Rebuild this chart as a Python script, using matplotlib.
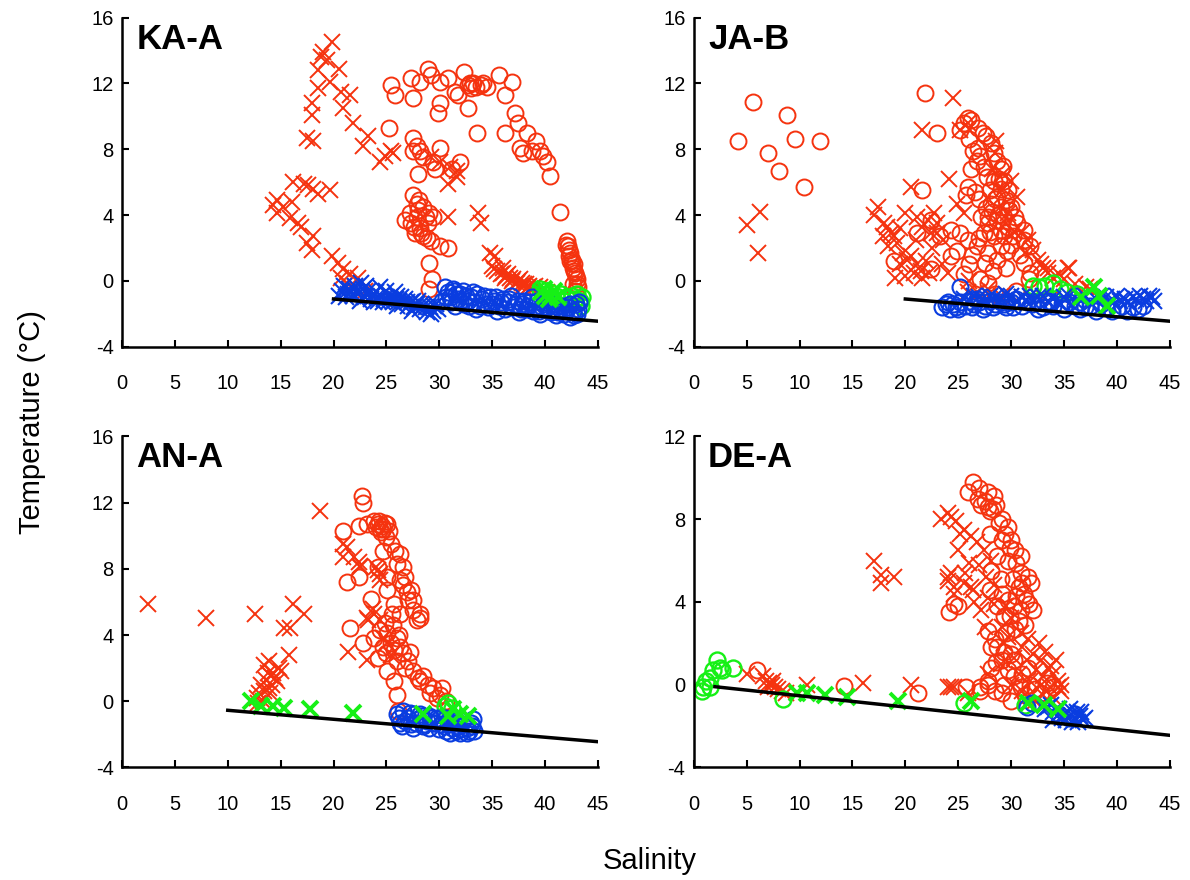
import matplotlib
matplotlib.use("Agg")
import matplotlib.pyplot as plt

plt.rcParams['font.family'] = ['Liberation Sans', 'DejaVu Sans']
plt.rcParams['axes.unicode_minus'] = False

RED = '#f5330f'
BLUE = '#0a3de0'
GREEN = '#16f016'

# ---------------- KA-A ----------------
ka_red_x = [(19.9, 14.5), (19.0, 13.9), (18.8, 13.6), (19.4, 13.4), (20.5, 12.9), (18.5, 12.8),
            (19.7, 12.1), (18.5, 11.7), (20.7, 11.5), (21.6, 11.3), (18.0, 10.8), (20.9, 10.5),
            (18.0, 10.1), (21.8, 9.6), (17.5, 8.7), (18.1, 8.5), (23.3, 8.8), (22.8, 8.2),
            (25.6, 7.8), (24.9, 7.6), (24.4, 7.2), (25.4, 7.9), (16.2, 6.0), (17.2, 5.9),
            (17.6, 5.8), (18.1, 5.6), (18.5, 5.3), (19.7, 5.5), (14.7, 4.9), (14.3, 4.6),
            (15.2, 4.5), (14.7, 4.1), (16.1, 4.8), (15.9, 3.8), (16.6, 3.5), (16.9, 3.3),
            (18.1, 2.7), (17.5, 2.3), (18.0, 1.9), (19.9, 1.5), (20.4, 1.1), (20.9, 0.7),
            (21.6, 0.4), (22.3, 0.2), (20.7, 0.2), (21.3, -0.1), (22.0, -0.4), (23.0, -0.6),
            (30.1, 7.2), (31.0, 6.9), (31.7, 6.7), (30.8, 5.9), (31.7, 6.3), (29.2, 7.5),
            (30.8, 3.9), (33.7, 4.1), (33.9, 3.5), (34.8, 1.7), (35.0, 0.9), (35.5, 0.6),
            (36.0, 0.5), (36.3, 0.3), (36.7, 0.2), (37.0, 0.1), (37.4, 0.0), (37.8, -0.1),
            (38.2, -0.2), (38.5, -0.3), (38.9, -0.4), (39.3, -0.5), (39.7, -0.6), (40.2, -0.7),
            (36.5, 0.4), (37.6, 0.1), (38.0, -0.2), (39.0, -0.3), (35.2, 0.7), (35.8, 0.4),
            (36.2, 0.2), (36.9, 0.0), (37.3, -0.1), (37.9, -0.3), (38.4, -0.4), (38.8, -0.5),
            (39.5, -0.4), (40.0, -0.8), (35.3, 1.5), (36.0, 0.8)]
ka_red_o = [(25.4, 11.9), (25.8, 11.3), (27.3, 12.3), (27.5, 11.1), (28.2, 12.1), (28.9, 12.9),
            (29.2, 12.5), (30.1, 12.1), (30.1, 10.8), (29.9, 10.2), (31.5, 11.5), (32.3, 12.7),
            (32.7, 11.9), (33.2, 12.0), (33.9, 11.9), (34.5, 11.8), (35.6, 12.5), (36.9, 12.1),
            (36.2, 11.3), (32.7, 10.5), (33.6, 9.0), (31.8, 11.3), (30.8, 12.3), (37.2, 10.2),
            (37.4, 9.6), (38.3, 9.0), (36.2, 9.0), (39.1, 8.5), (37.6, 8.1), (37.9, 7.8),
            (38.8, 7.9), (39.5, 7.9), (39.8, 7.6), (40.2, 7.2), (40.5, 6.4), (41.4, 4.2),
            (42.1, 2.4), (42.2, 2.1), (42.4, 1.7), (42.5, 1.3), (42.6, 0.8), (42.8, 0.5),
            (43.0, 0.1), (43.1, -0.4), (42.3, 1.9), (42.7, 1.0), (25.2, 9.3), (27.5, 8.7),
            (27.9, 8.2), (28.2, 7.9), (27.5, 7.9), (28.5, 7.5), (28.0, 6.5), (30.1, 8.1),
            (29.4, 7.2), (32.0, 7.2), (31.2, 6.8), (29.6, 6.8), (27.5, 5.2), (27.9, 4.7),
            (28.5, 4.5), (26.8, 3.7), (27.3, 3.5), (27.9, 3.9), (28.9, 3.5), (29.4, 3.9),
            (27.7, 2.9), (28.5, 2.7), (29.2, 2.4), (30.1, 2.1), (30.8, 2.0), (28.2, 3.2),
            (29.0, 4.1), (29.0, 1.1), (29.3, 0.1), (29.0, -0.5), (42.0, 2.2), (42.3, 1.5),
            (42.5, 1.1), (42.7, 0.6), (42.9, 0.3), (43.0, -0.2), (42.8, -0.6), (42.4, 1.2),
            (42.6, -0.2), (32.9, 12.0), (33.5, 11.8), (34.1, 12.0), (33.0, 11.7), (28.0, 4.3),
            (28.7, 3.9), (27.6, 3.3), (28.3, 2.9), (28.8, 2.6), (28.1, 4.9), (27.2, 4.1)]
ka_blue_x = [(21.5, -0.5), (22.0, -0.3), (22.3, -0.8), (22.8, -0.5), (23.0, -1.0), (23.3, -0.6),
             (23.6, -0.9), (24.0, -0.7), (24.2, -1.2), (24.5, -0.9), (24.8, -1.1), (25.0, -0.6),
             (25.3, -1.0), (25.6, -1.3), (26.0, -0.9), (26.2, -1.2), (26.5, -1.4), (26.8, -1.1),
             (27.0, -1.5), (27.3, -1.3), (27.6, -1.6), (27.9, -1.4), (28.2, -1.7), (28.5, -1.5),
             (28.8, -1.9), (29.1, -1.6), (29.4, -1.8), (29.7, -1.4), (22.5, -1.2), (21.8, -0.9),
             (23.8, -1.3), (25.8, -0.7), (24.4, -0.4), (27.4, -1.8), (28.0, -1.2), (29.2, -2.0),
             (26.0, -1.5), (20.8, -0.6), (21.2, -1.0), (22.6, -0.1), (21.0, -0.3), (21.4, -0.8),
             (22.1, -0.6), (22.9, -0.9), (23.5, -1.1), (24.1, -1.0), (24.7, -1.3), (25.2, -1.2),
             (25.9, -1.1), (26.4, -1.0), (26.9, -1.3), (27.5, -1.2), (28.3, -1.4), (28.7, -1.6),
             (29.5, -1.5), (29.9, -1.7), (23.1, -0.3), (20.5, -0.9)]
ka_blue_o = [(30.5, -0.4), (30.8, -0.7), (31.0, -1.0), (31.3, -0.5), (31.6, -0.8), (32.0, -1.2),
             (32.2, -0.6), (32.5, -0.9), (33.0, -1.0), (33.3, -1.3), (33.6, -0.8), (34.0, -1.1),
             (34.4, -1.4), (34.8, -1.0), (35.2, -1.2), (35.6, -1.5), (36.0, -1.1), (36.5, -1.3),
             (37.0, -1.6), (37.4, -1.2), (37.8, -1.4), (38.2, -1.7), (38.6, -1.3), (39.0, -1.5),
             (39.4, -1.8), (39.8, -1.4), (40.2, -1.6), (40.6, -1.9), (41.0, -1.5), (41.4, -1.7),
             (41.8, -2.0), (42.2, -1.6), (42.6, -1.8), (42.9, -1.4), (43.0, -2.0), (42.4, -2.2),
             (31.5, -1.5), (33.5, -1.7), (35.5, -1.8), (37.5, -1.9), (39.5, -2.0), (41.0, -2.1),
             (30.3, -1.2), (32.8, -1.5), (36.8, -0.9), (38.8, -1.0), (40.8, -1.2), (30.6, -1.0),
             (31.1, -1.3), (31.8, -1.1), (32.3, -1.4), (32.7, -1.2), (33.2, -0.7), (33.8, -1.5),
             (34.2, -0.9), (34.6, -1.6), (35.0, -1.4), (35.4, -1.0), (35.8, -1.3), (36.2, -1.7),
             (36.6, -1.1), (37.2, -1.4), (37.7, -1.7), (38.0, -1.2), (38.4, -1.5), (38.9, -1.8),
             (39.2, -1.2), (39.7, -1.6), (40.0, -1.3), (40.4, -1.8), (40.9, -1.4), (41.2, -1.9),
             (41.6, -1.5), (42.0, -1.8), (42.4, -1.4), (42.7, -2.1), (43.1, -1.7), (43.2, -1.3),
             (31.4, -0.6), (32.0, -0.8)]
ka_green_o = [(40.0, -0.6), (40.5, -0.7), (41.0, -0.9), (41.5, -0.8), (42.0, -1.0), (42.5, -0.9),
              (43.0, -0.8), (43.3, -1.2), (43.4, -1.5), (39.5, -0.5), (41.8, -1.2), (42.8, -1.1),
              (43.5, -1.0)]
ka_green_x = [(39.6, -0.7), (40.0, -0.9), (40.4, -1.1), (40.8, -0.6), (41.2, -1.0), (39.9, -0.5),
              (40.6, -0.9)]

# ---------------- JA-B ----------------
ja_red_x = [(5.0, 3.4), (6.3, 4.2), (6.1, 1.7), (24.5, 11.1), (21.6, 9.2), (24.1, 6.2), (20.5, 5.7),
            (17.4, 4.5), (17.0, 4.0), (20.0, 4.1), (18.3, 3.3), (17.9, 2.7), (18.9, 2.7), (18.4, 2.1),
            (21.1, 3.9), (22.1, 3.7), (22.7, 4.1), (21.6, 3.3), (22.4, 2.9), (20.5, 1.5), (21.1, 1.0),
            (20.8, 0.5), (21.6, 0.2), (22.2, 0.5), (23.0, 2.9), (23.6, 2.5), (24.9, 4.7), (25.5, 4.1),
            (25.9, 9.6), (25.2, 9.2), (29.7, 4.1), (30.6, 5.1), (30.0, 6.1), (31.6, 2.5), (32.1, 1.9),
            (32.5, 1.3), (33.0, 0.8), (33.5, 0.5), (34.0, 0.2), (35.4, 0.8), (35.0, 0.1), (26.8, -0.7),
            (25.9, -0.7), (35.5, 0.8), (37.1, -0.4), (37.5, -0.5), (33.5, 0.8), (29.0, -0.9),
            (31.0, -1.0), (33.0, -1.0), (35.0, -1.1), (19.5, 1.0), (19.0, 0.2), (23.5, 1.0),
            (28.5, 7.8), (29.2, 6.5), (30.3, 3.0), (18.0, 3.5), (18.6, 2.9), (19.2, 2.3), (19.8, 1.7),
            (20.2, 1.3), (21.5, 0.6), (22.0, 1.2), (20.0, 0.3), (19.5, 3.2), (21.0, 2.5), (23.0, 3.5),
            (22.5, 2.0), (29.5, 3.5), (30.0, 2.8), (31.0, 3.0), (31.3, 1.7), (32.8, 1.0), (34.5, 0.4),
            (36.0, -0.2), (29.2, 5.6), (28.2, 6.8), (28.6, 8.5), (24.0, 0.5), (26.0, 0.0), (27.8, -0.5),
            (34.0, -0.9)]
ja_red_o = [(5.6, 10.9), (8.8, 10.1), (4.2, 8.5), (9.6, 8.6), (11.9, 8.5), (7.0, 7.8), (8.1, 6.7),
            (10.4, 5.7), (21.9, 11.4), (23.0, 9.0), (21.6, 5.5), (25.9, 9.9), (25.5, 9.6), (25.2, 9.2),
            (26.2, 9.8), (26.9, 9.3), (27.3, 9.0), (26.9, 8.1), (28.1, 8.4), (28.4, 7.8), (28.7, 7.3),
            (26.8, 7.3), (26.2, 6.8), (27.4, 6.9), (29.0, 6.8), (28.4, 6.1), (29.3, 6.1), (29.7, 5.5),
            (25.9, 5.7), (25.7, 5.2), (28.1, 4.7), (29.0, 4.5), (30.0, 4.5), (28.7, 3.7), (27.8, 3.5),
            (29.7, 3.3), (30.6, 3.5), (31.2, 3.1), (31.2, 2.5), (27.4, 2.9), (28.4, 2.7), (29.3, 2.7),
            (30.2, 2.7), (25.2, 2.9), (25.9, 2.5), (26.8, 2.1), (24.9, 1.8), (27.8, 1.7), (28.7, 1.3),
            (21.1, 2.9), (24.3, 3.1), (23.3, 2.7), (22.4, 0.7), (18.9, 1.2), (25.5, 0.4), (27.1, 0.1),
            (27.8, -0.1), (31.2, 1.1), (31.8, 0.5), (31.8, 2.1), (24.3, 1.5), (29.0, 2.1), (27.8, 3.9),
            (28.7, 5.1), (22.4, 3.7), (31.7, 0.1), (29.5, 0.8), (30.5, -0.6), (28.5, -0.8), (28.0, 5.5),
            (28.5, 5.0), (29.0, 5.6), (29.5, 4.9), (28.2, 4.2), (28.8, 4.0), (29.3, 3.9), (29.8, 4.3),
            (27.6, 4.4), (27.2, 3.9), (28.0, 3.0), (29.0, 3.1), (30.4, 3.9), (30.0, 2.2), (29.6, 1.8),
            (27.0, 2.6), (26.3, 1.6), (27.5, 1.1), (28.3, 0.6), (26.0, 1.0), (30.8, 1.6), (26.6, 5.4),
            (27.0, 5.0), (27.7, 6.3), (28.9, 6.2), (29.2, 7.0), (26.4, 7.9), (27.6, 8.8), (26.0, 8.6),
            (27.1, 7.6)]
ja_blue_o = [(23.5, -1.6), (23.8, -1.4), (24.2, -1.7), (24.5, -1.4), (24.8, -1.6), (25.2, -1.3),
             (25.2, -0.4), (25.6, -1.5), (26.0, -1.2), (26.5, -1.4), (27.0, -1.3), (27.5, -1.5),
             (28.0, -1.2), (28.5, -1.4), (29.0, -1.3), (29.5, -1.6), (30.0, -1.3), (31.0, -1.5),
             (32.0, -1.4), (33.0, -1.6), (34.0, -1.5), (35.0, -1.7), (36.0, -1.5), (37.0, -1.6),
             (38.0, -1.8), (39.0, -1.6), (40.0, -1.7), (41.0, -1.8), (42.0, -1.7), (30.5, -1.1),
             (33.5, -1.2), (36.5, -1.3), (24.0, -1.3), (25.0, -1.7), (26.3, -1.6), (27.3, -1.7),
             (28.3, -1.6), (29.3, -1.4), (30.2, -1.6), (31.5, -1.3), (32.5, -1.7), (33.8, -1.3),
             (34.8, -1.4), (35.5, -1.3), (36.5, -1.7), (37.5, -1.5), (38.5, -1.4), (39.5, -1.8),
             (40.5, -1.5), (41.5, -1.6), (42.5, -1.5), (26.8, -1.1), (29.6, -1.2)]
ja_blue_x = [(27.0, -1.0), (28.0, -0.9), (29.0, -1.1), (30.0, -0.9), (31.0, -1.0), (32.0, -1.2),
             (33.0, -0.9), (34.0, -1.1), (35.0, -1.0), (36.0, -1.2), (37.0, -0.9), (38.0, -1.1),
             (39.0, -1.0), (40.0, -0.9), (40.8, -1.1), (41.5, -1.0), (42.2, -0.9), (42.8, -1.2),
             (43.3, -1.0), (43.5, -1.2), (37.5, -1.3), (39.5, -1.3), (41.0, -1.3), (34.5, -1.3),
             (31.5, -1.3), (27.5, -1.2), (28.5, -1.0), (29.5, -0.8), (30.5, -1.2), (31.8, -0.9),
             (32.5, -1.0), (33.5, -1.2), (35.5, -0.9), (36.5, -1.0), (38.5, -0.9), (39.5, -1.1),
             (40.3, -1.2), (41.8, -1.1), (42.5, -1.1), (43.0, -0.9), (26.5, -0.9), (25.5, -1.1)]
ja_green_o = [(32.1, -0.3), (32.6, -0.4), (33.2, -0.3), (34.0, -0.1), (34.6, -0.5), (35.3, -0.7),
              (36.2, -0.8)]
ja_green_x = [(37.8, -0.4), (38.3, -0.9), (36.6, -1.0), (39.1, -1.5)]

# ---------------- AN-A ----------------
an_red_x = [(2.5, 5.9), (7.9, 5.0), (12.6, 5.3), (18.7, 11.5), (16.2, 5.9), (17.2, 5.3), (15.3, 4.4),
            (15.9, 4.4), (15.8, 2.8), (13.4, 2.2), (13.8, 1.7), (14.1, 1.5), (14.3, 1.7), (14.7, 1.2),
            (13.1, 1.0), (13.4, 0.6), (13.9, 0.8), (12.8, 0.2), (13.3, 0.0), (15.0, 1.8), (14.2, 1.0),
            (21.3, 9.3), (21.9, 8.7), (22.4, 8.4), (22.5, 8.1), (20.9, 8.7), (24.2, 7.9), (24.4, 7.3),
            (23.7, 5.6), (23.2, 5.0), (24.4, 4.9), (21.4, 3.0), (24.7, 3.8), (25.1, 3.5), (25.4, 2.8),
            (23.2, 2.5), (20.9, 9.5), (22.5, 8.2), (24.0, 8.1), (24.4, 7.7), (23.8, 5.3), (23.3, 4.9),
            (13.6, 1.3), (14.0, 0.5), (14.5, 1.4), (13.0, 0.5), (12.9, -0.1), (14.8, 2.0), (13.9, 2.4)]
an_red_o = [(22.7, 12.4), (22.8, 12.0), (23.8, 10.9), (24.2, 10.7), (24.4, 10.4), (25.1, 10.7),
            (25.2, 10.3), (23.2, 10.7), (20.9, 10.3), (22.4, 10.6), (25.4, 9.5), (25.8, 9.1),
            (26.3, 8.9), (26.0, 8.3), (26.6, 8.1), (24.7, 9.1), (24.2, 8.1), (21.3, 7.2), (22.4, 7.5),
            (25.1, 7.5), (26.3, 7.3), (27.3, 6.7), (27.0, 6.1), (25.1, 6.7), (23.5, 6.2), (25.7, 5.9),
            (27.5, 5.5), (28.2, 5.3), (27.9, 4.9), (26.3, 5.3), (21.6, 4.4), (24.4, 4.3), (25.1, 4.1),
            (26.0, 3.8), (23.8, 3.8), (22.8, 3.5), (24.7, 3.3), (25.7, 3.1), (26.6, 2.9), (24.2, 2.6),
            (26.0, 2.4), (27.0, 2.4), (25.1, 1.8), (27.5, 1.8), (25.7, 1.2), (28.2, 1.2), (28.9, 1.0),
            (29.4, 0.8), (30.1, 0.4), (26.0, 0.4), (29.8, 0.2), (30.6, 0.0), (26.8, 7.5), (27.5, 6.1),
            (28.2, 5.0), (24.0, 10.5), (24.6, 10.6), (26.1, -0.6), (24.3, 10.9), (24.7, 10.4),
            (24.9, 10.8), (24.5, 10.2), (25.0, 9.9), (26.6, 7.0), (26.9, 6.6), (25.5, 5.3), (25.6, 4.6),
            (26.2, 4.0), (25.4, 3.5), (26.3, 3.3), (25.0, 2.9), (24.9, 4.7), (26.8, 2.0), (28.5, 1.5),
            (29.1, 0.5), (30.3, 0.8), (27.2, 3.0), (28.0, 1.4)]
an_blue_o = [(26.0, -0.8), (26.3, -1.3), (26.6, -0.6), (27.0, -1.0), (27.3, -1.4), (27.6, -0.8),
             (28.0, -1.1), (28.4, -0.9), (28.8, -1.2), (29.2, -1.0), (29.6, -1.3), (30.0, -1.1),
             (30.4, -1.5), (30.8, -1.2), (31.2, -1.6), (31.6, -1.3), (32.0, -1.7), (32.4, -1.4),
             (32.8, -1.8), (33.1, -1.5), (33.3, -1.8), (30.0, -1.7), (31.0, -1.9), (32.0, -1.9),
             (29.0, -1.6), (27.5, -1.6), (26.5, -1.5), (26.2, -1.0), (26.8, -1.2), (27.2, -0.7),
             (27.8, -1.3), (28.2, -0.8), (28.6, -1.4), (29.0, -0.9), (29.4, -1.3), (29.8, -1.0),
             (30.2, -1.4), (30.6, -1.0), (31.0, -1.4), (31.4, -1.2), (31.8, -1.5), (32.2, -1.2),
             (32.6, -1.6), (33.0, -1.3), (33.2, -1.1), (30.6, -1.8), (31.6, -1.8), (32.6, -1.9),
             (28.5, -1.5)]
an_green_o = [(30.8, -0.1), (31.2, -0.4), (30.5, -0.3)]
an_green_x = [(12.2, 0.0), (13.1, -0.3), (14.3, -0.3), (15.3, -0.4), (17.8, -0.5), (21.8, -0.7),
              (28.5, -0.8), (30.8, -0.9), (32.0, -0.8), (32.7, -0.9), (31.3, -0.5)]

# ---------------- DE-A ----------------
de_red_x = [(5.0, 0.5), (6.5, 0.4), (6.8, 0.2), (7.1, 0.1), (7.4, 0.0), (7.7, -0.1), (8.0, -0.2),
            (8.3, -0.3), (8.7, -0.4), (7.0, -0.1), (7.5, 0.2), (10.7, 0.0), (16.0, 0.1), (20.5, 0.0),
            (24.3, -0.1), (17.0, 6.0), (17.7, 5.3), (18.9, 5.2), (17.7, 4.9), (24.0, 8.3), (23.4, 8.0),
            (25.5, 7.5), (26.2, 7.2), (26.8, 6.9), (27.4, 6.5), (28.1, 6.0), (24.3, 5.4), (24.0, 5.0),
            (25.5, 4.9), (26.4, 4.6), (27.8, 4.2), (28.4, 3.9), (24.6, 4.4), (27.2, 3.6), (29.1, 2.8),
            (29.7, 2.3), (30.9, 2.5), (31.6, 2.2), (32.1, 1.5), (32.8, 1.2), (33.5, 0.8), (34.0, 0.5),
            (34.4, 0.2), (33.7, -0.1), (34.7, -0.3), (24.6, -0.1), (25.9, -0.4), (29.3, 2.0),
            (30.3, 1.3), (30.7, 0.5), (31.8, 0.2), (32.8, 0.0), (27.8, 0.5), (24.3, 8.1), (25.2, 7.3),
            (25.6, 5.4), (24.0, 5.2), (24.6, 4.7), (26.2, 4.7), (24.0, -0.1), (34.4, -0.1), (34.0, -0.6),
            (34.7, 0.0), (33.0, -0.5), (31.0, -0.3), (27.0, 5.8), (27.6, 5.2), (28.4, 4.8), (29.5, 3.8),
            (30.0, 3.2), (31.0, 1.8), (31.5, 1.2), (32.4, 0.7), (33.0, 0.4), (33.8, 0.9), (34.2, 1.2),
            (33.2, 1.6), (32.6, 2.0), (29.0, 1.0), (30.0, 0.0), (31.5, -0.6), (32.3, -0.8), (26.0, 5.9),
            (25.0, 6.5), (24.8, 7.9), (26.5, 4.0), (27.5, 2.8)]
de_red_o = [(6.0, 0.7), (14.2, -0.05), (21.2, -0.4), (26.4, 9.8), (25.9, 9.3), (26.9, 9.0), (27.8, 9.3),
            (28.4, 9.1), (27.2, 8.7), (27.8, 8.6), (28.3, 8.5), (28.6, 8.7), (29.1, 8.0), (29.7, 7.6),
            (28.0, 7.3), (29.1, 7.0), (30.0, 7.0), (30.4, 6.5), (30.9, 6.2), (28.7, 6.2), (29.7, 6.0),
            (28.1, 5.5), (30.9, 5.4), (31.6, 5.2), (31.9, 4.9), (30.7, 4.7), (31.2, 4.4), (29.1, 4.4),
            (29.7, 4.1), (30.3, 3.8), (28.7, 3.8), (30.9, 3.6), (32.1, 3.6), (29.3, 3.3), (27.8, 2.6),
            (30.7, 3.1), (28.7, 1.8), (30.0, 1.5), (28.1, 0.8), (24.6, 3.9), (24.1, 3.5), (25.0, 3.8),
            (29.3, 0.0), (27.8, 0.0), (27.1, -0.3), (28.1, 1.8), (29.1, 1.2), (30.3, 0.4), (30.9, -0.1),
            (29.1, -0.4), (30.0, -0.8), (31.8, 0.0), (32.8, -0.4), (34.0, -0.1), (27.1, -0.1),
            (27.8, 0.2), (25.7, -0.1), (30.3, 1.2), (31.6, 0.8), (27.0, 9.5), (27.5, 8.9), (28.0, 8.4),
            (28.9, 7.8), (29.4, 7.3), (29.9, 6.6), (30.5, 5.9), (30.2, 5.1), (31.0, 4.9), (31.4, 4.1),
            (30.5, 4.3), (31.7, 3.9), (29.9, 3.3), (30.4, 2.7), (31.3, 2.9), (29.5, 2.5), (28.5, 2.2),
            (29.3, 1.6), (28.6, 1.1), (29.7, 0.7), (31.0, 0.5), (28.5, -0.3), (31.3, -0.5), (32.3, -0.2),
            (33.4, 0.1), (29.0, 5.1), (28.0, 4.6)]
de_blue_o = [(31.5, -1.1), (32.0, -0.9), (34.5, -1.4), (35.5, -1.6), (36.0, -1.4)]
de_blue_x = [(33.5, -1.1), (34.0, -1.3), (34.5, -1.2), (35.0, -1.4), (35.5, -1.5), (36.0, -1.6),
             (36.5, -1.5), (36.8, -1.7), (35.2, -1.7), (34.3, -1.5), (33.8, -1.0), (36.2, -1.3),
             (35.8, -1.8), (33.2, -1.2), (34.8, -1.6), (35.6, -1.2), (36.3, -1.8), (37.0, -1.6),
             (34.0, -1.7), (36.6, -1.3)]
de_green_o = [(0.9, -0.1), (1.2, 0.2), (1.5, 0.3), (1.8, 0.7), (2.2, 1.2), (2.5, 0.8), (2.7, 0.7),
              (3.7, 0.8), (0.8, -0.3), (1.5, -0.1), (8.4, -0.7), (25.5, -0.9), (31.3, -1.0)]
de_green_x = [(9.8, -0.4), (10.7, -0.4), (12.4, -0.5), (14.5, -0.6), (19.3, -0.8), (26.2, -0.8),
              (31.6, -0.9), (33.1, -1.0), (34.4, -1.2)]

# freezing line end points (salinity, temperature) per panel
freeze_ka = ([20, 45], [-1.1, -2.45])
freeze_ja = ([20, 45], [-1.1, -2.45])
freeze_an = ([10, 45], [-0.55, -2.45])
freeze_de = ([2, 45], [-0.1, -2.45])

x_ticks = [0, 5, 10, 15, 20, 25, 30, 35, 40, 45]
y_ticks_16 = [-4, 0, 4, 8, 12, 16]
y_ticks_12 = [-4, 0, 4, 8, 12]


def scat(ax, pts, color, marker, lw):
    s = [p[0] for p in pts]
    t = [p[1] for p in pts]
    if marker == 'o':
        ax.plot(s, t, 'o', ms=11.5, mfc='none', mec=color, mew=lw, ls='none')
    else:
        ax.plot(s, t, 'x', ms=11.5, color=color, mew=lw, ls='none')


def panel(rect, name, red_x, red_o, blue_o, blue_x, green_o, green_x, freeze, yticks):
    ax = fig.add_axes(rect)
    scat(ax, red_x, RED, 'x', 1.4)
    scat(ax, red_o, RED, 'o', 1.4)
    scat(ax, green_o, GREEN, 'o', 1.7)
    scat(ax, blue_o, BLUE, 'o', 1.5)
    scat(ax, blue_x, BLUE, 'x', 1.5)
    scat(ax, green_x, GREEN, 'x', 2.8)
    ax.plot(freeze[0], freeze[1], color='black', lw=2.5)
    ax.set_xlim(0, 45)
    ax.set_ylim(yticks[0], yticks[-1])
    ax.set_xticks(x_ticks)
    ax.set_yticks(yticks)
    ax.spines['top'].set_visible(False)
    ax.spines['right'].set_visible(False)
    ax.spines['left'].set_linewidth(1.8)
    ax.spines['bottom'].set_linewidth(1.8)
    ax.tick_params(direction='in', length=5, width=1.5, labelsize=14.5)
    ax.tick_params(axis='x', pad=20)
    ax.tick_params(axis='y', pad=6)
    ax.text(0.03, 0.985, name, transform=ax.transAxes, fontsize=25, fontweight='bold',
            va='top', ha='left')
    return ax


fig = plt.figure(figsize=(11.9, 8.8), dpi=100)

panel([0.1025, 0.606, 0.4, 0.374], 'KA-A', ka_red_x, ka_red_o, ka_blue_o, ka_blue_x,
      ka_green_o, ka_green_x, freeze_ka, y_ticks_16)
panel([0.583, 0.606, 0.4, 0.374], 'JA-B', ja_red_x, ja_red_o, ja_blue_o, ja_blue_x,
      ja_green_o, ja_green_x, freeze_ja, y_ticks_16)
panel([0.1025, 0.128, 0.4, 0.376], 'AN-A', an_red_x, an_red_o, an_blue_o, [],
      an_green_o, an_green_x, freeze_an, y_ticks_16)
panel([0.583, 0.128, 0.4, 0.376], 'DE-A', de_red_x, de_red_o, de_blue_o, de_blue_x,
      de_green_o, de_green_x, freeze_de, y_ticks_12)

fig.text(0.027, 0.52, 'Temperature (°C)', rotation=90, fontsize=21, ha='center', va='center')
fig.text(0.546, 0.022, 'Salinity', fontsize=21, ha='center', va='center')

fig.savefig('out.png', dpi=100)
